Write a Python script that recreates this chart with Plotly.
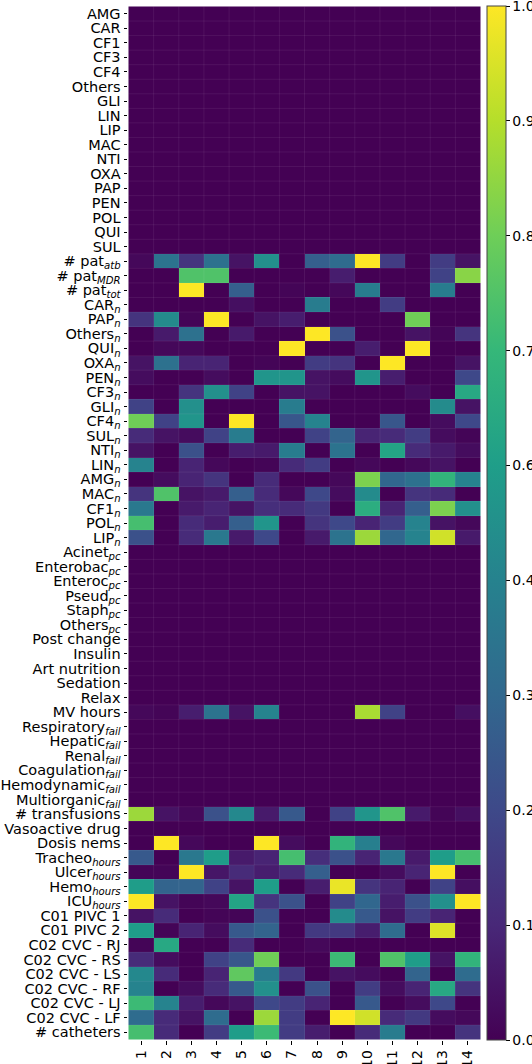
import plotly.graph_objects as go

columns = list(range(1, 15))

antibiotics = ["AMG", "CAR", "CF1", "CF3", "CF4", "Others", "GLI", "LIN", "LIP",
               "MAC", "NTI", "OXA", "PAP", "PEN", "POL", "QUI", "SUL"]
antibiotics_vals = [
    [0, 0, 0, 0, 0, 0, 0, 0, 0, 0, 0, 0, 0, 0],
    [0, 0, 0, 0, 0, 0, 0, 0, 0, 0, 0, 0, 0, 0],
    [0, 0, 0, 0, 0, 0, 0, 0, 0, 0, 0, 0, 0, 0],
    [0, 0, 0, 0, 0, 0, 0, 0, 0, 0, 0, 0, 0, 0],
    [0, 0, 0, 0, 0, 0, 0, 0, 0, 0, 0, 0, 0, 0],
    [0, 0, 0, 0, 0, 0, 0, 0, 0, 0, 0, 0, 0, 0],
    [0, 0, 0, 0, 0, 0, 0, 0, 0, 0, 0, 0, 0, 0],
    [0, 0, 0, 0, 0, 0, 0, 0, 0, 0, 0, 0, 0, 0],
    [0, 0, 0, 0, 0, 0, 0, 0, 0, 0, 0, 0, 0, 0],
    [0, 0, 0, 0, 0, 0, 0, 0, 0, 0, 0, 0, 0, 0],
    [0, 0, 0, 0, 0, 0, 0, 0, 0, 0, 0, 0, 0, 0],
    [0, 0, 0, 0, 0, 0, 0, 0, 0, 0, 0, 0, 0, 0],
    [0, 0, 0, 0, 0, 0, 0, 0, 0, 0, 0, 0, 0, 0],
    [0, 0, 0, 0, 0, 0, 0, 0, 0, 0, 0, 0, 0, 0],
    [0, 0, 0, 0, 0, 0, 0, 0, 0, 0, 0, 0, 0, 0],
    [0, 0, 0, 0, 0, 0, 0, 0, 0, 0, 0, 0, 0, 0],
    [0, 0, 0, 0, 0, 0, 0, 0, 0, 0, 0, 0, 0, 0],
]

patients = ["# pat<sub><i>atb</i></sub>", "# pat<sub><i>MDR</i></sub>", "# pat<sub><i>tot</i></sub>"]
patients_vals = [
    [0.02, 0.38, 0.15, 0.37, 0.05, 0.50, 0.0, 0.30, 0.35, 1.0, 0.18, 0.0, 0.18, 0.05],
    [0.0, 0.0, 0.72, 0.72, 0.0, 0.0, 0.0, 0.0, 0.08, 0.0, 0.0, 0.0, 0.20, 0.82],
    [0.0, 0.0, 1.0, 0.0, 0.30, 0.0, 0.01, 0.0, 0.02, 0.42, 0.0, 0.0, 0.42, 0.0],
]

antibiotics_n = ["CAR", "PAP", "Others", "QUI", "OXA", "PEN", "CF3", "GLI", "CF4",
                 "SUL", "NTI", "LIN", "AMG", "MAC", "CF1", "POL", "LIP"]
antibiotics_n_vals = [
    [0.0, 0.0, 0.0, 0.0, 0.04, 0.0, 0.0, 0.42, 0.0, 0.0, 0.18, 0.0, 0.0, 0.0],
    [0.15, 0.48, 0.01, 1.0, 0.0, 0.05, 0.08, 0.0, 0.0, 0.0, 0.0, 0.78, 0.0, 0.0],
    [0.0, 0.07, 0.37, 0.0, 0.07, 0.0, 0.0, 1.0, 0.25, 0.0, 0.0, 0.05, 0.01, 0.15],
    [0.0, 0.02, 0.02, 0.0, 0.0, 0.0, 1.0, 0.0, 0.0, 0.08, 0.0, 1.0, 0.0, 0.0],
    [0.05, 0.37, 0.10, 0.10, 0.0, 0.01, 0.0, 0.18, 0.15, 0.0, 1.0, 0.0, 0.0, 0.05],
    [0.03, 0.0, 0.0, 0.03, 0.0, 0.52, 0.52, 0.05, 0.03, 0.52, 0.08, 0.0, 0.0, 0.22],
    [0.0, 0.0, 0.15, 0.50, 0.20, 0.0, 0.05, 0.05, 0.0, 0.0, 0.0, 0.03, 0.0, 0.60],
    [0.20, 0.0, 0.50, 0.0, 0.0, 0.0, 0.42, 0.0, 0.0, 0.0, 0.0, 0.0, 0.48, 0.05],
    [0.78, 0.20, 0.52, 0.0, 1.0, 0.0, 0.27, 0.45, 0.0, 0.0, 0.27, 0.0, 0.03, 0.22],
    [0.12, 0.05, 0.03, 0.20, 0.42, 0.0, 0.0, 0.20, 0.32, 0.10, 0.12, 0.18, 0.03, 0.01],
    [0.05, 0.0, 0.25, 0.0, 0.08, 0.07, 0.42, 0.0, 0.38, 0.0, 0.58, 0.12, 0.07, 0.03],
    [0.45, 0.0, 0.10, 0.02, 0.0, 0.01, 0.12, 0.18, 0.0, 0.02, 0.0, 0.02, 0.05, 0.0],
    [0.0, 0.03, 0.10, 0.15, 0.0, 0.12, 0.0, 0.0, 0.02, 0.80, 0.33, 0.37, 0.65, 0.45],
    [0.15, 0.72, 0.05, 0.07, 0.30, 0.12, 0.02, 0.22, 0.03, 0.48, 0.0, 0.15, 0.12, 0.0],
    [0.40, 0.0, 0.07, 0.10, 0.05, 0.13, 0.12, 0.17, 0.0, 0.62, 0.10, 0.30, 0.80, 0.50],
    [0.70, 0.0, 0.12, 0.08, 0.30, 0.52, 0.0, 0.15, 0.22, 0.10, 0.18, 0.45, 0.05, 0.02],
    [0.25, 0.0, 0.12, 0.40, 0.07, 0.22, 0.0, 0.07, 0.38, 0.85, 0.33, 0.45, 0.93, 0.07],
]

pathogens = ["Acinet", "Enterobac", "Enteroc", "Pseud", "Staph", "Others"]
pathogens_vals = [
    [0, 0, 0, 0, 0, 0, 0, 0, 0, 0, 0, 0, 0, 0],
    [0, 0, 0, 0, 0, 0, 0, 0, 0, 0, 0, 0, 0, 0],
    [0, 0, 0, 0, 0, 0, 0, 0, 0, 0, 0, 0, 0, 0],
    [0, 0, 0, 0, 0, 0, 0, 0, 0, 0, 0, 0, 0, 0],
    [0, 0, 0, 0, 0, 0, 0, 0, 0, 0, 0, 0, 0, 0],
    [0, 0, 0, 0, 0, 0, 0, 0, 0, 0, 0, 0, 0, 0],
]

treatments = ["Post change", "Insulin", "Art nutrition", "Sedation", "Relax", "MV hours"]
treatments_vals = [
    [0, 0, 0, 0, 0, 0, 0, 0, 0, 0, 0, 0, 0, 0],
    [0, 0, 0, 0, 0, 0, 0, 0, 0, 0, 0, 0, 0, 0],
    [0, 0, 0, 0, 0, 0, 0, 0, 0, 0, 0, 0, 0, 0],
    [0, 0, 0, 0, 0, 0, 0, 0, 0, 0, 0, 0, 0, 0],
    [0, 0, 0, 0, 0, 0, 0, 0, 0, 0, 0, 0, 0, 0],
    [0.02, 0.01, 0.08, 0.38, 0.05, 0.45, 0.0, 0.0, 0.0, 0.87, 0.20, 0.0, 0.0, 0.04],
]

failures = ["Respiratory", "Hepatic", "Renal", "Coagulation", "Hemodynamic", "Multiorganic"]
failures_vals = [
    [0, 0, 0, 0, 0, 0, 0, 0, 0, 0, 0, 0, 0, 0],
    [0, 0, 0, 0, 0, 0, 0, 0, 0, 0, 0, 0, 0, 0],
    [0, 0, 0, 0, 0, 0, 0, 0, 0, 0, 0, 0, 0, 0],
    [0, 0, 0, 0, 0, 0, 0, 0, 0, 0, 0, 0, 0, 0],
    [0, 0, 0, 0, 0, 0, 0, 0, 0, 0, 0, 0, 0, 0],
    [0, 0, 0, 0, 0, 0, 0, 0, 0, 0, 0, 0, 0, 0],
]

support = ["# transfusions", "Vasoactive drug", "Dosis nems"]
support_vals = [
    [0.85, 0.05, 0.02, 0.25, 0.47, 0.07, 0.28, 0.0, 0.20, 0.52, 0.72, 0.07, 0.01, 0.04],
    [0, 0, 0, 0, 0, 0, 0, 0, 0, 0, 0, 0, 0, 0],
    [0.0, 1.0, 0.02, 0.0, 0.0, 1.0, 0.03, 0.0, 0.65, 0.43, 0.02, 0.0, 0.0, 0.0],
]

hours = ["Tracheo", "Ulcer", "Hemo", "ICU"]
hours_vals = [
    [0.28, 0.0, 0.40, 0.55, 0.07, 0.10, 0.70, 0.13, 0.25, 0.10, 0.40, 0.07, 0.55, 0.70],
    [0.01, 0.01, 1.0, 0.06, 0.12, 0.08, 0.12, 0.30, 0.0, 0.0, 0.03, 0.10, 1.0, 0.0],
    [0.55, 0.32, 0.32, 0.20, 0.05, 0.55, 0.0, 0.08, 0.97, 0.15, 0.10, 0.0, 0.20, 0.04],
    [1.0, 0.05, 0.01, 0.02, 0.58, 0.15, 0.25, 0.0, 0.20, 0.33, 0.08, 0.25, 0.50, 1.0],
]

catheters = ["C01 PIVC 1", "C01 PIVC 2", "C02 CVC - RJ", "C02 CVC - RS", "C02 CVC - LS",
             "C02 CVC - RF", "C02 CVC - LJ", "C02 CVC - LF", "# catheters"]
catheters_vals = [
    [0.05, 0.12, 0.0, 0.01, 0.01, 0.25, 0.0, 0.0, 0.48, 0.28, 0.05, 0.18, 0.10, 0.0],
    [0.55, 0.01, 0.10, 0.03, 0.28, 0.32, 0.0, 0.17, 0.17, 0.08, 0.35, 0.0, 0.95, 0.0],
    [0.01, 0.60, 0.0, 0.0, 0.12, 0.0, 0.0, 0.02, 0.0, 0.0, 0.0, 0.0, 0.0, 0.0],
    [0.12, 0.03, 0.0, 0.20, 0.27, 0.78, 0.0, 0.0, 0.68, 0.0, 0.72, 0.55, 0.05, 0.65],
    [0.47, 0.12, 0.0, 0.10, 0.75, 0.42, 0.17, 0.0, 0.05, 0.03, 0.0, 0.32, 0.0, 0.35],
    [0.45, 0.0, 0.03, 0.12, 0.28, 0.50, 0.0, 0.25, 0.0, 0.18, 0.03, 0.10, 0.60, 0.15],
    [0.68, 0.45, 0.08, 0.02, 0.05, 0.22, 0.18, 0.10, 0.0, 0.28, 0.0, 0.03, 0.22, 0.0],
    [0.35, 0.12, 0.05, 0.35, 0.0, 0.85, 0.18, 0.0, 1.0, 0.93, 0.12, 0.17, 0.03, 0.02],
    [0.70, 0.12, 0.0, 0.18, 0.55, 0.68, 0.18, 0.08, 0.0, 0.12, 0.42, 0.0, 0.0, 0.15],
]

cbar_ticks = [k / 9 for k in range(10)]


def sub(names, s):
    return [f"{n}<sub><i>{s}</i></sub>" for n in names]


rows = (antibiotics + patients + sub(antibiotics_n, "n") + sub(pathogens, "pc")
        + treatments + sub(failures, "fail") + support + sub(hours, "hours") + catheters)
z = (antibiotics_vals + patients_vals + antibiotics_n_vals + pathogens_vals
     + treatments_vals + failures_vals + support_vals + hours_vals + catheters_vals)

fig = go.Figure(go.Heatmap(
    z=z, x=columns, y=rows,
    colorscale="Viridis", zmin=0, zmax=1,
    colorbar=dict(
        x=1.017, xanchor="left", xpad=0, ypad=0, thickness=19, len=1,
        outlinecolor="#444", outlinewidth=1,
        tickvals=cbar_ticks, ticktext=[f"{t:.1f}" for t in cbar_ticks],
        ticks="outside", ticklen=3.5, tickcolor="black", ticklabeloverflow="allow",
        tickfont=dict(size=14, color="black"),
    ),
))

# faint seams between cells, like the rendered mesh in the original
n_rows, n_cols = len(rows), len(columns)
for i in range(1, n_cols):
    fig.add_shape(type="line", x0=i + 0.5, x1=i + 0.5, y0=-0.5, y1=n_rows - 0.5,
                  line=dict(color="rgba(255,255,255,0.07)", width=1))
for j in range(1, n_rows):
    fig.add_shape(type="line", x0=0.5, x1=n_cols + 0.5, y0=j - 0.5, y1=j - 0.5,
                  line=dict(color="rgba(255,255,255,0.07)", width=1))

fig.update_layout(
    width=532, height=1064,
    margin=dict(l=128, r=51, t=6, b=24, autoexpand=False),
    paper_bgcolor="white", plot_bgcolor="white",
    font=dict(family="DejaVu Sans", size=14, color="black"),
)
fig.update_xaxes(tickmode="array", tickvals=columns, tickangle=-90, ticks="outside",
                 ticklen=3.5, tickcolor="black", showgrid=False, zeroline=False,
                 automargin=False)
fig.update_yaxes(autorange="reversed", tickmode="array", tickvals=rows, ticktext=rows,
                 ticks="outside", ticklen=3.5, tickcolor="black", tickfont=dict(size=14.5),
                 showgrid=False, zeroline=False, automargin=False)

fig.write_html("out.html", config={"displayModeBar": False},
               post_script="document.body.style.margin = '0';")
